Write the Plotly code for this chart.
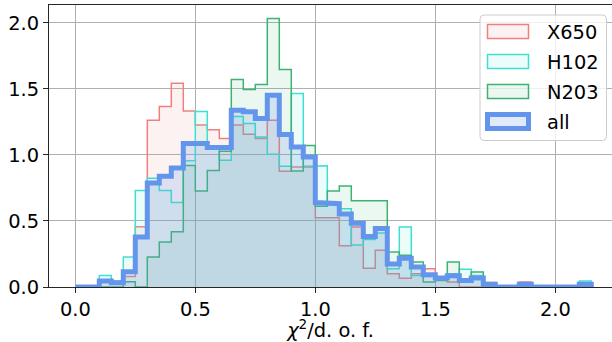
import numpy as np
import plotly.graph_objects as go

# ---------------- data (density histograms, bin width 0.05 from 0 to 2.15) ----------------
bin_width = 0.05
n_bins = 43
series_names = ["X650", "H102", "N203", "all"]
x650 = [0, 0, 0.04, 0.04, 0.08, 0.457, 1.263, 1.366, 1.543, 1.333,
        1.227, 1.19, 1.124, 1.227, 1.157, 1.124, 1.263, 0.876, 0.909, 0.909,
        0.525, 0.525, 0.313, 0.455, 0.141, 0.278, 0.101, 0.066, 0.10, 0.139,
        0.07, 0.038, 0, 0, 0.035, 0, 0, 0.038, 0, 0,
        0, 0, 0]
h102 = [0, 0, 0.088, 0.045, 0.227, 0.73, 0.823, 0.73, 0.639, 0.955,
        1.328, 1.05, 0.96, 1.29, 1.237, 1.136, 1.005, 0.914, 1.465, 0.914,
        0.917, 0.62, 0.593, 0.318, 0.36, 0.409, 0.139, 0.455, 0.088, 0.08,
        0.06, 0.10, 0.134, 0.088, 0, 0, 0, 0, 0, 0,
        0, 0, 0.045]
n203 = [0, 0, 0, 0, 0.04, 0, 0.227, 0.341, 0.419, 0.919,
        0.727, 0.881, 1.028, 1.571, 1.495, 1.533, 2.033, 1.646, 0.879, 1.071,
        0.611, 0.727, 0.765, 0.652, 0.652, 0.652, 0.265, 0.24, 0.189, 0.038,
        0.05, 0.189, 0.04, 0.114, 0, 0, 0, 0, 0, 0,
        0, 0, 0]
all_ = [0, 0, 0.045, 0.033, 0.116, 0.379, 0.788, 0.838, 0.90, 1.086,
        1.086, 1.056, 1.056, 1.338, 1.326, 1.275, 1.452, 1.154, 1.06, 0.985,
        0.639, 0.631, 0.553, 0.483, 0.382, 0.442, 0.175, 0.218, 0.152, 0.092,
        0.068, 0.085, 0.05, 0.068, 0.02, 0, 0, 0.02, 0, 0,
        0, 0, 0.02]
x_ticks = [0.0, 0.5, 1.0, 1.5, 2.0]
y_ticks = [0.0, 0.5, 1.0, 1.5, 2.0]

edges = np.round(np.arange(n_bins + 1) * bin_width, 4)


def step(vals):
    xs = [edges[0]]
    ys = [0.0]
    for i, v in enumerate(vals):
        xs += [edges[i], edges[i + 1]]
        ys += [v, v]
    xs.append(edges[-1])
    ys.append(0.0)
    return xs, ys


styles = [
    dict(rgb=(240, 128, 128), width=1.5, fa=0.1),
    dict(rgb=(64, 224, 208), width=1.5, fa=0.1),
    dict(rgb=(60, 179, 113), width=1.5, fa=0.1),
    dict(rgb=(100, 149, 237), width=5, fa=0.2),
]


def rgba(rgb, a):
    return "rgba(%d,%d,%d,%g)" % (rgb[0], rgb[1], rgb[2], a)


FONT = "DejaVu Sans"
FS = 19.4

fig = go.Figure()
for name, vals, st in zip(series_names, [x650, h102, n203, all_], styles):
    xs, ys = step(vals)
    fig.add_trace(go.Scatter(
        x=xs, y=ys, mode="lines", name=name, showlegend=False,
        line=dict(color=rgba(st["rgb"], 1), width=st["width"]),
        fill="tozeroy", fillcolor=rgba(st["rgb"], st["fa"]),
        hoverinfo="skip",
    ))

W, H = 612, 342
ML, MR, MT, MB = 49, 0, 5, 55
PW = W - ML - MR
PH = H - MT - MB


def px(xp):
    return (xp - ML) / PW


def py(yp):
    return (H - MB - yp) / PH


shapes = []
annotations = []
# legend frame (rounded)
x0, x1, y0, y1, r = 480, 606.5, 15, 140.5, 4
path = ("M {a},{b} L {c},{b} Q {d},{b} {d},{e} L {d},{f} Q {d},{g} {c},{g} "
        "L {a},{g} Q {h},{g} {h},{f} L {h},{e} Q {h},{b} {a},{b} Z").format(
    a=px(x0 + r), b=py(y0), c=px(x1 - r), d=px(x1), e=py(y0 + r), f=py(y1 - r),
    g=py(y1), h=px(x0))
shapes.append(dict(type="path", xref="paper", yref="paper", path=path,
                   fillcolor="rgba(255,255,255,0.8)", line=dict(color="#cccccc", width=1)))
centers = [31.5, 61.5, 91.5, 121.5]
for name, st, cy in zip(series_names, styles, centers):
    shapes.append(dict(type="rect", xref="paper", yref="paper",
                       x0=px(487.5), x1=px(528.5), y0=py(cy - 7), y1=py(cy + 7),
                       fillcolor=rgba(st["rgb"], st["fa"]),
                       line=dict(color=rgba(st["rgb"], 1), width=st["width"])))
    annotations.append(dict(xref="paper", yref="paper", x=px(545), y=py(cy + 1),
                            text=name, showarrow=False, xanchor="left", yanchor="middle",
                            font=dict(family=FONT, size=FS, color="black")))

axis_common = dict(
    showgrid=True, gridcolor="#b0b0b0", gridwidth=1, zeroline=False,
    showline=True, linecolor="#262626", linewidth=1.2,
    ticks="outside", ticklen=5, tickwidth=1, tickcolor="#262626",
    tickfont=dict(family=FONT, size=FS, color="black"),
)

fig.update_layout(
    width=W, height=H,
    margin=dict(l=ML, r=MR, t=MT, b=MB, autoexpand=False),
    plot_bgcolor="white", paper_bgcolor="white",
    showlegend=False,
    xaxis=dict(range=[(ML - 75.3) / 240, (W - 75.3) / 240],
               tickvals=x_ticks, ticktext=["%.1f" % v for v in x_ticks],
               mirror=True,
               title=dict(text="<i>χ</i><sup>2</sup>/d. o. f.", standoff=7,
                          font=dict(family=FONT, size=FS, color="black")),
               **axis_common),
    yaxis=dict(range=[0, PH / 132.1],
               tickvals=y_ticks, ticktext=["%.1f" % v for v in y_ticks],
               **axis_common),
    shapes=shapes, annotations=annotations,
)

fig.write_html("out.html")
